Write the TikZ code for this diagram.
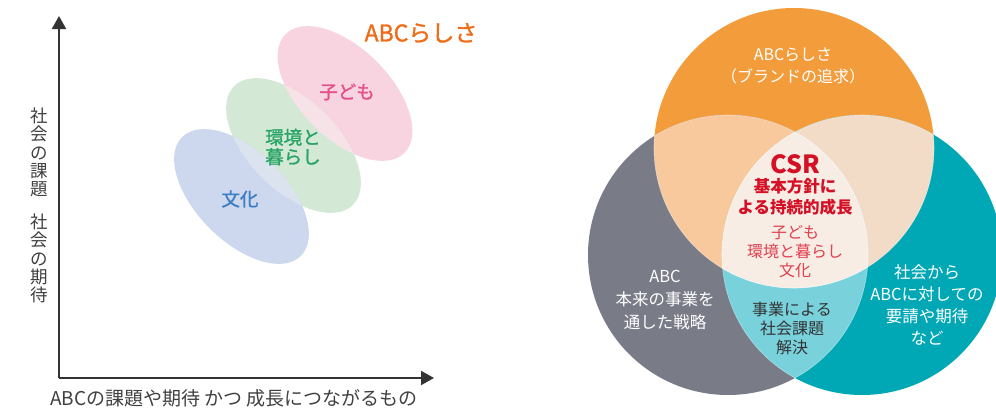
\documentclass[tikz,border=0pt]{standalone}
\usepackage{fontspec}
\setmainfont{Noto Sans CJK JP}
\newfontfamily\jpmed{Noto Sans CJK JP}[FakeBold=1.2]
\usetikzlibrary{arrows.meta}
\definecolor{axisc}{HTML}{333333}
\definecolor{labc}{HTML}{404040}
\definecolor{ellpink}{HTML}{F8D4E0}
\definecolor{ellgreen}{HTML}{D4E8D6}
\definecolor{ellblue}{HTML}{CDD7EE}
\definecolor{ovpg}{HTML}{F6E2E7}
\definecolor{ovgb}{HTML}{DAE3EE}
\definecolor{txpink}{HTML}{E4508A}
\definecolor{txgreen}{HTML}{27A465}
\definecolor{txblue}{HTML}{3C7DC4}
\definecolor{txorange}{HTML}{EE6D1A}
\definecolor{cO}{HTML}{F39C3C}
\definecolor{cG}{HTML}{797B87}
\definecolor{cT}{HTML}{00A7B5}
\definecolor{cOG}{HTML}{F8C99D}
\definecolor{cOT}{HTML}{F2DCC8}
\definecolor{cGT}{HTML}{79D1DC}
\definecolor{cC}{HTML}{F7EDE4}
\definecolor{csrred}{HTML}{D50F25}
\definecolor{csrlight}{HTML}{E04050}
\definecolor{darktx}{HTML}{333333}
\tikzset{
  axisline/.style={draw=axisc, line width=2pt, -{Triangle[length=13pt,width=14pt]}},
  vlab/.style={text=labc, inner sep=0pt, align=center, font=\fontsize{17.5}{18.2}\selectfont},
  ellab/.style={inner sep=0pt, align=center, font=\jpmed\fontsize{18.5}{19.5}\selectfont},
  wtxt/.style={text=white, inner sep=0pt, align=center, font=\fontsize{16}{22}\selectfont},
  rtxt/.style={text=csrlight, inner sep=0pt, align=center, font=\fontsize{16}{19}\selectfont},
  venn/.style={draw=white, draw opacity=0.45, line width=0.6pt},
}
\begin{document}
\begin{tikzpicture}[x=1pt, y=-1pt]
\useasboundingbox (0,0) rectangle (996,410);
% ---------- left chart ----------
\coordinate (cp) at (345,93.5);
\coordinate (cg) at (293.5,145.5);
\coordinate (cb) at (241.5,196.5);
\fill[ellpink, rotate around={-45:(cp)}] (cp) ellipse [x radius=84pt, y radius=45pt];
\fill[ellgreen, rotate around={-45:(cg)}] (cg) ellipse [x radius=84pt, y radius=45pt];
\fill[ellblue, rotate around={-45:(cb)}] (cb) ellipse [x radius=84pt, y radius=45pt];
\begin{scope}
  \clip[rotate around={-45:(cg)}] (cg) ellipse [x radius=84pt, y radius=45pt];
  \fill[ovpg, rotate around={-45:(cp)}] (cp) ellipse [x radius=84pt, y radius=45pt];
  \fill[ovgb, rotate around={-45:(cb)}] (cb) ellipse [x radius=84pt, y radius=45pt];
\end{scope}
\coordinate (orig) at (59,378);
\coordinate (ytip) at (59,16);
\coordinate (xtip) at (434,378);
\draw[axisline] (orig) -- (ytip);
\draw[axisline] (orig) -- (xtip);
\node[vlab] (vl1) at (39,152.5) {社\\会\\の\\課\\題};
\node[vlab] (vl2) at (39,258.5) {社\\会\\の\\期\\待};
\node[text=labc, inner sep=0pt, font=\fontsize{19}{20}\selectfont] (xl) at (234,398) {ABCの課題や期待 かつ 成長につながるもの};
\node[ellab, text=txpink] (tk) at (347,92) {子ども};
\node[ellab, text=txgreen] (tg) at (293,147) {環境と\\暮らし};
\node[ellab, text=txblue] (tb) at (240,199) {文化};
\node[text=txorange, inner sep=0pt, font=\jpmed\fontsize{23}{24}\selectfont] (abcr) at (421,33) {ABCらしさ};
% ---------- right venn ----------
\coordinate (O) at (794,148);
\coordinate (G) at (728,255);
\coordinate (T) at (862,255);
\fill[cO] (O) circle (140pt);
\fill[cG] (G) circle (140pt);
\fill[cT] (T) circle (140pt);
\begin{scope}
  \clip (O) circle (140pt);
  \fill[cOG] (G) circle (140pt);
  \fill[cOT] (T) circle (140pt);
\end{scope}
\begin{scope}
  \clip (G) circle (140pt);
  \fill[cGT] (T) circle (140pt);
\end{scope}
\begin{scope}
  \clip (O) circle (140pt);
  \clip (G) circle (140pt);
  \fill[cC] (T) circle (140pt);
\end{scope}
\begin{scope}
  \clip (O) circle (140pt);
  \draw[venn] (G) circle (140pt);
  \draw[venn] (T) circle (140pt);
\end{scope}
\begin{scope}
  \clip (G) circle (140pt);
  \draw[venn] (O) circle (140pt);
  \draw[venn] (T) circle (140pt);
\end{scope}
\begin{scope}
  \clip (T) circle (140pt);
  \draw[venn] (O) circle (140pt);
  \draw[venn] (G) circle (140pt);
\end{scope}
\node[wtxt] (ttop) at (793,66) {ABCらしさ\\（ブランドの追求）};
\node[text=csrred, inner sep=0pt, font=\fontsize{25}{26}\selectfont\bfseries] (csr) at (795,164) {CSR};
\node[text=csrred, inner sep=0pt, align=center, font=\fontsize{16.5}{20.5}\selectfont\bfseries] (kh) at (795,197) {基本方針に\\よる持続的成長};
\node[rtxt] (themes) at (795,252) {子ども\\環境と暮らし\\文化};
\node[wtxt, font=\fontsize{16.5}{23}\selectfont] (tleft) at (665,300) {ABC\\本来の事業を\\通した戦略};
\node[text=darktx, inner sep=0pt, align=center, font=\fontsize{16}{19}\selectfont] (tbot) at (792,328) {事業による\\社会課題\\解決};
\node[wtxt, font=\fontsize{16.5}{22}\selectfont] (tright) at (927,305) {社会から\\ABCに対しての\\要請や期待\\など};
\end{tikzpicture}
\end{document}
